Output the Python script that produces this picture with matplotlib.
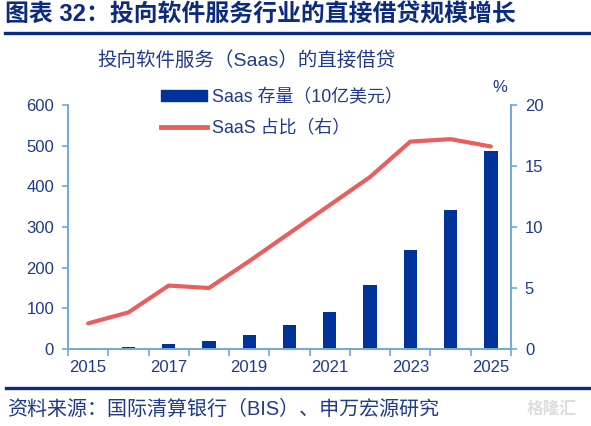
import numpy as np
import matplotlib
matplotlib.use('Agg')
import matplotlib.pyplot as plt
from matplotlib.lines import Line2D

plt.rcParams['font.family'] = ['Liberation Sans', 'Noto Sans CJK SC']

years = [2015, 2016, 2017, 2018, 2019, 2020, 2021, 2022, 2023, 2024, 2025]
saas_stock = [2.5, 6, 12, 19, 35, 59, 92, 157, 243, 342, 488]   # 10亿美元
saas_share = [2.1, 3.0, 5.2, 5.0, 7.2, 9.5, 11.8, 14.1, 17.0, 17.2, 16.6]  # %
xlabels = ['2015', '', '2017', '', '2019', '', '2021', '', '2023', '', '2025']

navy = '#003399'
red = '#e8605e'
axcol = '#6fa8dc'
txt = '#1f3a8a'
dark = '#0d2b7e'

fig = plt.figure(figsize=(5.91, 4.26), dpi=100)
ax = fig.add_axes([68 / 591, 1 - 349 / 426, (511 - 68) / 591, (349 - 105) / 426])
ax2 = ax.twinx()

x = np.arange(len(years))
ax.bar(x, saas_stock, width=0.33, color=navy, zorder=2)
ax2.plot(x, saas_share, color=red, lw=3, zorder=3, solid_capstyle='round')

ax.set_xlim(-0.5, len(years) - 0.5)
ax.set_ylim(0, 600)
ax.set_yticks(range(0, 601, 100))
ax2.set_ylim(0, 20)
ax2.set_yticks(range(0, 21, 5))

ax.set_xticks(x)
ax.set_xticklabels(xlabels)
ax.set_xticks(np.arange(-0.5, len(years), 1), minor=True)
ax.tick_params(axis='x', which='major', length=0, pad=8, labelsize=12, labelcolor=txt)
ax.tick_params(axis='x', which='minor', length=5, color=axcol, width=1.2)
ax.tick_params(axis='y', length=4, color=axcol, width=1.2, labelsize=12, labelcolor=txt, pad=6)
ax2.tick_params(axis='y', length=4, color=axcol, width=1.2, labelsize=12, labelcolor=txt, pad=6)

for a in (ax, ax2):
    a.spines['top'].set_visible(False)
    for s in ('left', 'right', 'bottom'):
        a.spines[s].set_color(axcol)
        a.spines[s].set_linewidth(1.2)
ax.set_zorder(ax2.get_zorder() - 1)
ax.patch.set_visible(False)

handles = [plt.Rectangle((0, 0), 1, 1, color=navy),
           Line2D([0], [0], color=red, lw=3.5)]
fig.legend(handles, ['Saas 存量（10亿美元）', 'SaaS 占比（右）'],
           loc='upper left', bbox_to_anchor=(161 / 591, 1 - 89 / 426),
           frameon=False, fontsize=12.9, labelcolor=txt, borderpad=0,
           handlelength=2.55, handleheight=0.55, handletextpad=0.3,
           labelspacing=0.78, borderaxespad=0)

fig.text(500 / 591, 1 - 88 / 426, '%', fontsize=12, color=txt, ha='center', va='center')

fig.text(5 / 591, 1 - 15 / 426, '图表 32：投向软件服务行业的直接借贷规模增长',
         fontsize=17.2, fontweight='bold', color=dark, ha='left', va='center')
fig.add_artist(Line2D([5 / 591, 1], [1 - 32.5 / 426, 1 - 32.5 / 426],
                      color=dark, lw=2.4))
fig.text(247 / 591, 1 - 61 / 426, '投向软件服务（Saas）的直接借贷',
         fontsize=14, color=txt, ha='center', va='center')

fig.add_artist(Line2D([6 / 591, 1], [1 - 387.5 / 426, 1 - 387.5 / 426],
                      color=dark, lw=2.4))
fig.text(7 / 591, 1 - 409 / 426, '资料来源：国际清算银行（BIS）、申万宏源研究',
         fontsize=14.4, color=txt, ha='left', va='center')
fig.text(552 / 591, 1 - 409 / 426, '格隆汇', fontsize=12, color='#dddddd',
         ha='center', va='center', fontweight='bold')

fig.savefig('out.png', dpi=100)
